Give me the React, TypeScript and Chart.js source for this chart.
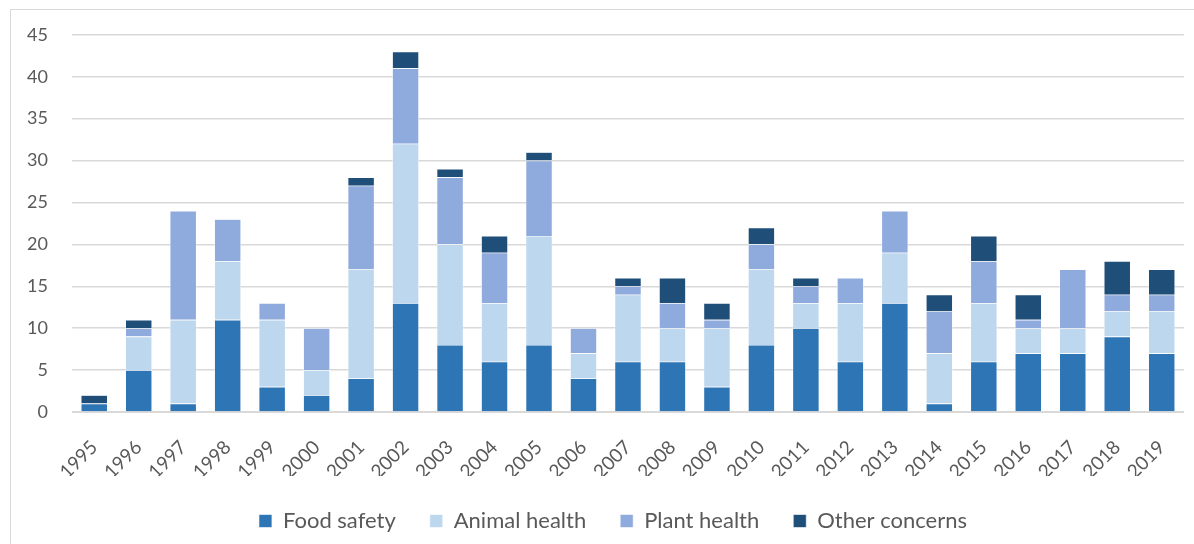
import React, { useEffect, useRef } from "react";
import { Chart, registerables } from "chart.js";

Chart.register(...registerables);

const years = ["1995","1996","1997","1998","1999","2000","2001","2002","2003","2004","2005","2006","2007","2008","2009","2010","2011","2012","2013","2014","2015","2016","2017","2018","2019"];
const foodSafety = [1,5,1,11,3,2,4,13,8,6,8,4,6,6,3,8,10,6,13,1,6,7,7,9,7];
const animalHealth = [0,4,10,7,8,3,13,19,12,7,13,3,8,4,7,9,3,7,6,6,7,3,3,3,5];
const plantHealth = [0,1,13,5,2,5,10,9,8,6,9,3,1,3,1,3,2,3,5,5,5,1,7,2,2];
const otherConcerns = [1,1,0,0,0,0,1,2,1,2,1,0,1,3,2,2,1,0,0,2,3,3,0,4,3];
const yTicks = [0,5,10,15,20,25,30,35,40,45];

const FONT = "Lato, 'Liberation Sans', sans-serif";

const shiftLegend = {
  id: "shiftLegend",
  afterLayout(chart: any) {
    if (chart.legend) {
      chart.legend.left += 20;
      chart.legend.right += 20;
    }
  },
};

export default function App() {
  const ref = useRef<HTMLCanvasElement | null>(null);
  useEffect(() => {
    document.body.style.margin = "0";
    const ctx = ref.current!;
    const mk = (label: string, data: number[], color: string) => ({
      label, data, backgroundColor: color, borderColor: "#FFFFFF", borderWidth: 0.6,
      barPercentage: 0.6, categoryPercentage: 1.0,
    });
    const chart = new Chart(ctx, {
      type: "bar",
      data: {
        labels: years,
        datasets: [
          mk("Food safety", foodSafety, "#2E75B6"),
          mk("Animal health", animalHealth, "#BDD7EE"),
          mk("Plant health", plantHealth, "#8FAADC"),
          mk("Other concerns", otherConcerns, "#1F4E79"),
        ],
      },
      plugins: [shiftLegend],
      options: {
        responsive: false,
        animation: false,
        layout: { padding: { left: 0, right: 8, top: 25, bottom: 2 } },
        plugins: {
          tooltip: { enabled: false },
          legend: {
            position: "bottom",
            labels: {
              font: { family: FONT, size: 22 },
              color: "#595959",
              boxWidth: 13,
              boxHeight: 13,
              padding: 34,
            },
          },
        },
        scales: {
          x: {
            stacked: true,
            grid: { display: false },
            border: { color: "#D9D9D9" },
            afterFit: (s: any) => { s.height = 64; },
            ticks: {
              font: { family: FONT, size: 19 },
              color: "#595959",
              minRotation: 45,
              maxRotation: 45,
              padding: 16,
            },
          },
          y: {
            stacked: true,
            min: 0,
            max: 45,
            afterBuildTicks: (s: any) => { s.ticks = yTicks.map((v) => ({ value: v })); },
            afterFit: (s: any) => { s.width = 72; },
            grid: { color: "#D9D9D9", lineWidth: 1.5, drawTicks: false },
            border: { display: false },
            ticks: {
              font: { family: FONT, size: 18 },
              color: "#595959",
              padding: 24,
            },
          },
        },
      },
    });
    return () => chart.destroy();
  }, []);
  return (
    <div style={{ position: "relative", width: 1194, height: 544, overflow: "hidden", background: "#fff" }}>
      <div style={{ position: "absolute", left: 10, top: 9, width: 1200, height: 560, border: "1px solid #D9D9D9", boxSizing: "border-box" }} />
      <canvas ref={ref} width={1194} height={544} style={{ position: "absolute", left: 0, top: 0 }} />
    </div>
  );
}
